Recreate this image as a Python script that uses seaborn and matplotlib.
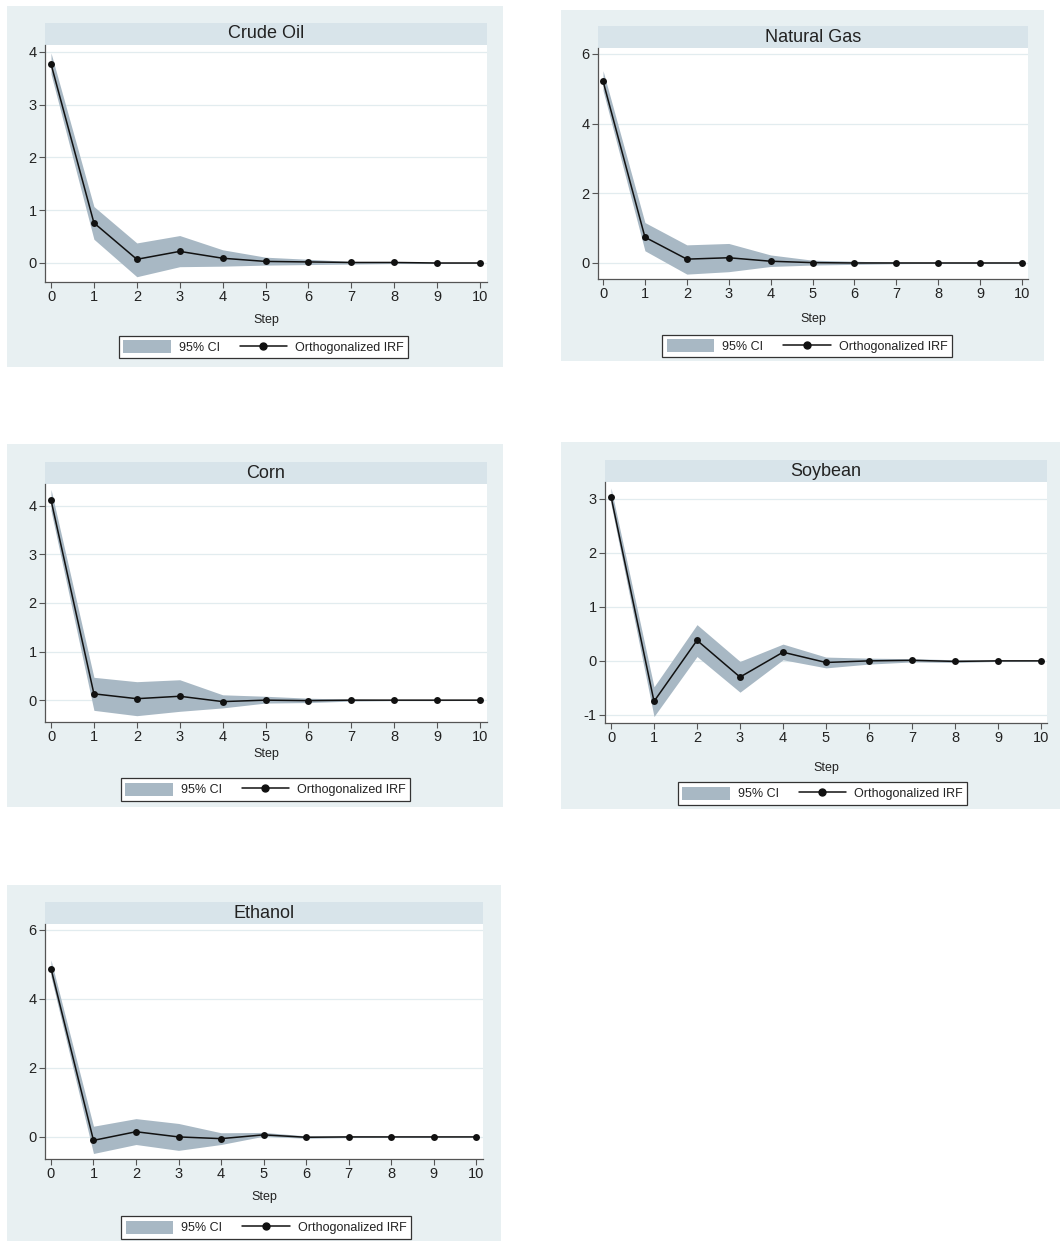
import numpy as np
import pandas as pd
import matplotlib
matplotlib.use("Agg")
import matplotlib.pyplot as plt
import seaborn as sns
from matplotlib.patches import Rectangle, Patch
from matplotlib.lines import Line2D

#%% data
steps = list(range(11))

crude_irf = [3.77, 0.76, 0.07, 0.22, 0.09, 0.03, 0.02, 0.01, 0.01, 0.00, 0.00]
crude_lo = [3.58, 0.45, -0.26, -0.07, -0.06, -0.04, -0.03, -0.02, -0.01, -0.01, -0.005]
crude_hi = [3.98, 1.07, 0.38, 0.52, 0.25, 0.11, 0.07, 0.03, 0.02, 0.01, 0.005]

gas_irf = [5.22, 0.74, 0.11, 0.15, 0.05, 0.01, 0.00, 0.00, 0.00, 0.00, 0.00]
gas_lo = [4.95, 0.35, -0.32, -0.25, -0.10, -0.06, -0.04, -0.02, -0.01, -0.01, -0.005]
gas_hi = [5.52, 1.16, 0.52, 0.56, 0.23, 0.08, 0.05, 0.02, 0.01, 0.01, 0.005]

corn_irf = [4.12, 0.13, 0.03, 0.08, -0.03, 0.00, -0.01, 0.00, 0.00, 0.00, 0.00]
corn_lo = [3.90, -0.21, -0.32, -0.23, -0.16, -0.06, -0.05, -0.02, -0.01, -0.01, -0.005]
corn_hi = [4.34, 0.47, 0.38, 0.42, 0.11, 0.08, 0.04, 0.02, 0.01, 0.01, 0.005]

soy_irf = [3.04, -0.75, 0.38, -0.30, 0.16, -0.03, 0.00, 0.01, -0.01, 0.00, 0.00]
soy_lo = [2.90, -1.03, 0.08, -0.58, 0.02, -0.13, -0.06, -0.02, -0.03, -0.01, -0.005]
soy_hi = [3.20, -0.48, 0.67, -0.01, 0.31, 0.07, 0.05, 0.04, 0.02, 0.01, 0.005]

eth_irf = [4.88, -0.10, 0.15, 0.00, -0.05, 0.06, -0.01, 0.00, 0.00, 0.00, 0.00]
eth_lo = [4.65, -0.48, -0.22, -0.39, -0.22, 0.02, -0.04, -0.02, -0.01, -0.01, -0.005]
eth_hi = [5.13, 0.31, 0.53, 0.39, 0.12, 0.13, 0.03, 0.02, 0.01, 0.01, 0.005]

titles = ["Crude Oil", "Natural Gas", "Corn", "Soybean", "Ethanol"]
yticks = [[0, 1, 2, 3, 4], [0, 2, 4, 6], [0, 1, 2, 3, 4], [-1, 0, 1, 2, 3], [0, 2, 4, 6]]

#%% layout (pixels)
W, H = 1060, 1241
# bg box, axes box, ylim, xlim, "Step" y, legend box  (all pixel coords x0, y0, x1, y1)
panels = [
    dict(bg=(7, 6, 503, 367), ax=(45, 45, 487, 282), ylim=(-0.36, 4.13), xlim=(-0.14, 10.16),
         step=320, leg=(118, 336, 409, 358)),
    dict(bg=(561, 10, 1044, 361), ax=(598, 48, 1028, 279), ylim=(-0.46, 6.17), xlim=(-0.12, 10.14),
         step=319, leg=(665, 335, 949, 357)),
    dict(bg=(7, 444, 503, 807), ax=(45, 484, 487, 722), ylim=(-0.45, 4.45), xlim=(-0.14, 10.16),
         step=754, leg=(120, 778, 411, 801)),
    dict(bg=(561, 442, 1060, 809), ax=(605, 482, 1047, 723), ylim=(-1.15, 3.31), xlim=(-0.14, 10.14),
         step=768, leg=(675, 782, 970, 805)),
    dict(bg=(7, 885, 501, 1241), ax=(45, 924, 483, 1159), ylim=(-0.64, 6.17), xlim=(-0.14, 10.16),
         step=1197, leg=(122, 1216, 410, 1239)),
]

bg_col = "#e8f0f2"
band_col = "#d8e4ea"
ci_col = "#a8b8c4"
grid_col = "#e2ecef"
axis_col = "#555555"

sns.set_style("white")
plt.rcParams['font.family'] = ['Liberation Sans', 'DejaVu Sans']
plt.rcParams['axes.unicode_minus'] = False

fig = plt.figure(figsize=(W / 100, H / 100), dpi=100)
fig.patch.set_facecolor("white")

def fx(x):
    return x / W

def fy(y):
    return 1 - y / H

series = [(crude_irf, crude_lo, crude_hi), (gas_irf, gas_lo, gas_hi), (corn_irf, corn_lo, corn_hi),
          (soy_irf, soy_lo, soy_hi), (eth_irf, eth_lo, eth_hi)]

for i, p in enumerate(panels):
    irf, lo, hi = series[i]
    bx0, by0, bx1, by1 = p["bg"]
    fig.patches.append(Rectangle((fx(bx0), fy(by1)), fx(bx1 - bx0), (by1 - by0) / H,
                                 transform=fig.transFigure, facecolor=bg_col, edgecolor="none", zorder=-10))
    ax0, ay0, ax1, ay1 = p["ax"]
    # title band
    tb = 22
    fig.patches.append(Rectangle((fx(ax0), fy(ay0)), fx(ax1 - ax0), tb / H,
                                 transform=fig.transFigure, facecolor=band_col, edgecolor="none", zorder=-5))
    fig.text(fx((ax0 + ax1) / 2), fy(ay0 - tb / 2), titles[i], ha="center", va="center",
             fontsize=13, color="#222222")

    ax = fig.add_axes([fx(ax0), fy(ay1), fx(ax1 - ax0), (ay1 - ay0) / H])
    ax.set_zorder(2)
    ax.set_facecolor("white")
    df = pd.DataFrame({"step": steps, "irf": irf, "lo": lo, "hi": hi})
    ax.fill_between(df["step"], df["lo"], df["hi"], color=ci_col, linewidth=0, zorder=2)
    sns.lineplot(data=df, x="step", y="irf", ax=ax, color="#111111", linewidth=1.1,
                 marker="o", markersize=5, markeredgewidth=0, zorder=3)
    ax.set_xlim(*p["xlim"])
    ax.set_ylim(*p["ylim"])
    ax.set_xticks(steps)
    ax.set_yticks(yticks[i])
    for t in yticks[i]:
        ax.axhline(t, color=grid_col, linewidth=0.9, zorder=1)
    ax.set_xlabel("")
    ax.set_ylabel("")
    for s in ["top", "right"]:
        ax.spines[s].set_visible(False)
    for s in ["left", "bottom"]:
        ax.spines[s].set_color(axis_col)
        ax.spines[s].set_linewidth(0.9)
    ax.tick_params(axis="both", direction="out", length=4, width=0.8, color=axis_col,
                   labelsize=10.5, labelcolor="#222222", bottom=True, left=True, pad=2)

    fig.text(fx((ax0 + ax1) / 2), fy(p["step"]), "Step", ha="center", va="center",
             fontsize=9, color="#222222")

    lx0, ly0, lx1, ly1 = p["leg"]
    handles = [Patch(facecolor=ci_col, edgecolor="none"),
               Line2D([0], [0], color="#111111", linewidth=1.1, marker="o", markersize=5)]
    leg = fig.legend(handles, ["95% CI", "Orthogonalized IRF"], ncol=2,
                     loc="center", bbox_to_anchor=(fx((lx0 + lx1) / 2), fy((ly0 + ly1) / 2)),
                     fontsize=9, frameon=True, fancybox=False, framealpha=1, borderpad=0.35,
                     handlelength=3.8, handleheight=1.2, columnspacing=1.6, handletextpad=0.65)
    leg.get_frame().set_edgecolor("#333333")
    leg.get_frame().set_linewidth(0.9)
    for t in leg.get_texts():
        t.set_color("#222222")

fig.savefig("out.png", dpi=100, facecolor="white")
